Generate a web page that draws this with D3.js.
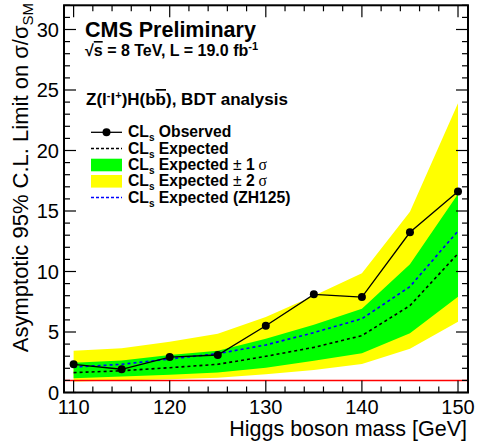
<!DOCTYPE html>
<html>
<head>
<meta charset="utf-8">
<script src="https://cdn.jsdelivr.net/npm/d3@7"></script>
<style>
  body { margin: 0; background: #fff; }
  svg text { font-family: "Liberation Sans", Arial, Helvetica, sans-serif; }
</style>
</head>
<body>
<script>
// Higgs mass points and limits (sigma / sigma_SM)
var masses = [110, 115, 120, 125, 130, 135, 140, 145, 150];
var observed = [2.33, 1.92, 2.93, 3.10, 5.52, 8.11, 7.89, 13.24, 16.62];
var expected = [1.64, 1.80, 2.05, 2.33, 2.99, 3.73, 4.70, 7.18, 11.48];
var expectedZH125 = [2.10, 2.33, 2.77, 3.21, 3.93, 4.95, 6.10, 8.75, 13.35];
var minus2s = [0.90, 1.00, 1.10, 1.22, 1.50, 1.85, 2.36, 3.62, 5.85];
var minus1s = [1.17, 1.33, 1.47, 1.65, 2.05, 2.62, 3.24, 4.89, 7.92];
var plus1s = [2.46, 2.65, 3.10, 3.45, 4.45, 5.60, 6.92, 10.60, 16.40];
var plus2s = [3.45, 3.65, 4.20, 4.85, 6.25, 8.00, 9.85, 14.94, 23.90];

var xTicks = [110, 120, 130, 140, 150];
var yTicks = [0, 5, 10, 15, 20, 25, 30];

var width = 479, height = 445;
var fLeft = 64, fRight = 468, fTop = 5.3, fBottom = 392.5;

var x = d3.scaleLinear().domain([109, 151.04]).range([fLeft, fRight]);
var y = d3.scaleLinear().domain([0, 32]).range([fBottom, fTop]);

var svg = d3.select("body").append("svg")
    .attr("width", width)
    .attr("height", height);

var idx = d3.range(masses.length);

function band(lo, hi, color) {
    var area = d3.area()
        .x(function(i) { return x(masses[i]); })
        .y0(function(i) { return y(lo[i]); })
        .y1(function(i) { return y(hi[i]); });
    svg.append("path").datum(idx)
        .attr("d", area)
        .style("fill", color)
        .style("stroke", "none");
}

band(minus2s, plus2s, "#ffff00");
band(minus1s, plus1s, "#00ff00");

// SM line
svg.append("line")
    .attr("x1", fLeft).attr("x2", fRight)
    .attr("y1", y(1)).attr("y2", y(1))
    .style("stroke", "#ff0000").style("stroke-width", 1.5);

function curve(vals, color, dash, w) {
    var line = d3.line()
        .x(function(i) { return x(masses[i]); })
        .y(function(i) { return y(vals[i]); });
    svg.append("path").datum(idx)
        .attr("d", line)
        .style("fill", "none")
        .style("stroke", color)
        .style("stroke-width", w)
        .style("stroke-dasharray", dash);
}

curve(expected, "#000", "3,3", 1.6);
curve(expectedZH125, "#0000ff", "3,3", 1.6);
curve(observed, "#000", null, 1.3);

svg.selectAll("circle.obs")
    .data(idx)
    .enter()
    .append("circle")
    .attr("class", "obs")
    .attr("cx", function(i) { return x(masses[i]); })
    .attr("cy", function(i) { return y(observed[i]); })
    .attr("r", 4)
    .style("fill", "#000");

// frame and ticks
svg.append("rect")
    .attr("x", fLeft).attr("y", fTop)
    .attr("width", fRight - fLeft).attr("height", fBottom - fTop)
    .style("fill", "none").style("stroke", "#000").style("stroke-width", 2);

var tickG = svg.append("g").style("stroke", "#000").style("stroke-width", 1.2);

d3.range(110, 151, 2).forEach(function(m) {
    var len = (m % 10 === 0) ? 12 : 6;
    tickG.append("line").attr("x1", x(m)).attr("x2", x(m))
        .attr("y1", fBottom).attr("y2", fBottom - len);
    tickG.append("line").attr("x1", x(m)).attr("x2", x(m))
        .attr("y1", fTop).attr("y2", fTop + len);
});

d3.range(0, 33, 1).forEach(function(v) {
    var len = (v % 5 === 0) ? 12 : 6;
    tickG.append("line").attr("x1", fLeft).attr("x2", fLeft + len)
        .attr("y1", y(v)).attr("y2", y(v));
    tickG.append("line").attr("x1", fRight).attr("x2", fRight - len)
        .attr("y1", y(v)).attr("y2", y(v));
});

svg.selectAll("text.xt")
    .data(xTicks)
    .enter()
    .append("text")
    .attr("class", "xt")
    .attr("x", function(d) { return x(d); })
    .attr("y", 414)
    .attr("text-anchor", "middle")
    .style("font-size", "20px")
    .text(function(d) { return d; });

svg.selectAll("text.yt")
    .data(yTicks)
    .enter()
    .append("text")
    .attr("class", "yt")
    .attr("x", 59)
    .attr("y", function(d) { return y(d) + 7; })
    .attr("text-anchor", "end")
    .style("font-size", "20px")
    .text(function(d) { return d; });

// axis titles
svg.append("text")
    .attr("x", 467).attr("y", 436)
    .attr("text-anchor", "end")
    .style("font-size", "21.5px")
    .text("Higgs boson mass [GeV]");

var yTitle = svg.append("text")
    .attr("transform", "translate(28,3) rotate(-90)")
    .attr("text-anchor", "end")
    .style("font-size", "22px");
yTitle.append("tspan").text("Asymptotic 95% C.L. Limit on \u03c3/\u03c3");
yTitle.append("tspan").attr("dy", 5).style("font-size", "15px").text("SM");

// header texts
svg.append("text")
    .attr("x", 85).attr("y", 37)
    .style("font-size", "21.5px").style("font-weight", "bold")
    .text("CMS Preliminary");

var lumi = svg.append("text")
    .attr("x", 85).attr("y", 56)
    .style("font-size", "16px").style("font-weight", "bold");
lumi.append("tspan").text("\u221a");
lumi.append("tspan").style("text-decoration", "overline").text("s");
lumi.append("tspan").text(" = 8 TeV, L = 19.0 fb");
lumi.append("tspan").attr("dy", -6).style("font-size", "11px").text("-1");

var chan = svg.append("text")
    .attr("x", 86).attr("y", 105)
    .style("font-size", "17px").style("font-weight", "bold");
chan.append("tspan").text("Z(l");
chan.append("tspan").attr("dy", -6).style("font-size", "11px").text("-");
chan.append("tspan").attr("dy", 6).text("l");
chan.append("tspan").attr("dy", -6).style("font-size", "11px").text("+");
chan.append("tspan").attr("dy", 6).text(")H(b");
chan.append("tspan").style("text-decoration", "overline").text("b");
chan.append("tspan").text("), BDT analysis");

// legend
var legendLabels = ["Observed", "Expected", "Expected", "Expected", "Expected (ZH125)"];
var legendSigma = ["", "", "1", "2", ""];
var legendY = [132.3, 148.6, 165, 181.3, 197.6];
var lx0 = 91, lx1 = 122, ltx = 128;

legendY.forEach(function(ly, k) {
    if (k === 0) {
        svg.append("line").attr("x1", lx0).attr("x2", lx1).attr("y1", ly).attr("y2", ly)
            .style("stroke", "#000").style("stroke-width", 1.3);
        svg.append("circle").attr("cx", (lx0 + lx1) / 2).attr("cy", ly).attr("r", 4).style("fill", "#000");
    } else if (k === 1 || k === 4) {
        svg.append("line").attr("x1", lx0).attr("x2", lx1).attr("y1", ly).attr("y2", ly)
            .style("stroke", k === 1 ? "#000" : "#0000ff").style("stroke-width", 1.5)
            .style("stroke-dasharray", "3,2");
    } else {
        svg.append("rect").attr("x", lx0).attr("y", ly - 6.3).attr("width", lx1 - lx0).attr("height", 12.6)
            .style("fill", k === 2 ? "#00ff00" : "#ffff00");
    }
    var t = svg.append("text").attr("x", ltx).attr("y", ly + 5)
        .style("font-size", "15.7px").style("font-weight", "bold");
    t.append("tspan").text("CL");
    t.append("tspan").attr("dy", 4).style("font-size", "10px").text("s");
    t.append("tspan").attr("dy", -4).text(" " + legendLabels[k]);
    if (legendSigma[k]) {
        t.append("tspan").style("font-weight", "normal").text(" \u00b1");
        t.append("tspan").text(" " + legendSigma[k]);
        t.append("tspan").style("font-weight", "normal")
            .style("font-family", "'Liberation Serif', 'DejaVu Serif', serif").text(" \u03c3");
    }
});
</script>
</body>
</html>
